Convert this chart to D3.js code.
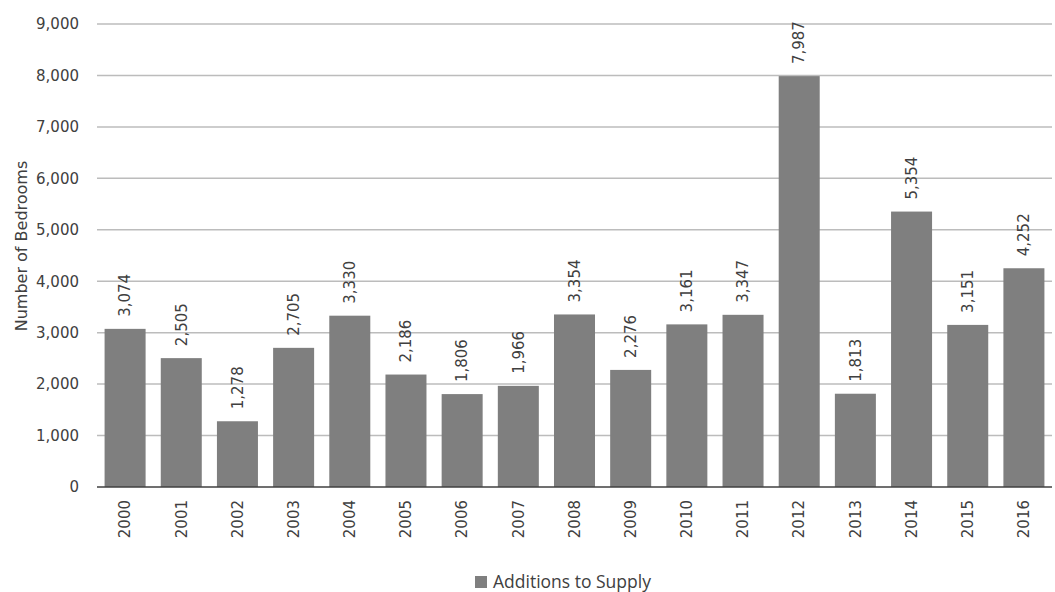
<!DOCTYPE html>
<html>
<head>
<meta charset="utf-8">
<script src="https://cdn.jsdelivr.net/npm/d3@7"></script>
<style>
  body { margin: 0; background: #fff; }
  svg text { font-family: "DejaVu Sans", Verdana, sans-serif; fill: #404040; }
</style>
</head>
<body>
<script>
// chart data
var years = ["2000","2001","2002","2003","2004","2005","2006","2007","2008","2009","2010","2011","2012","2013","2014","2015","2016"];
var bedrooms = [3074, 2505, 1278, 2705, 3330, 2186, 1806, 1966, 3354, 2276, 3161, 3347, 7987, 1813, 5354, 3151, 4252];
var yTicks = [0, 1000, 2000, 3000, 4000, 5000, 6000, 7000, 8000, 9000];
var seriesName = "Additions to Supply";

const w = 1055;
const h = 592;

const svg = d3.select("body").append("svg")
  .attr("width", w)
  .attr("height", h);

// scales
const xScale = d3.scaleBand()
  .domain(years)
  .range([97, 1052])
  .paddingInner(0.27)
  .paddingOuter(0.135);

const yScale = d3.scaleLinear()
  .domain([0, 9000])
  .range([487, 24]);

// gridlines
svg.append("g")
  .selectAll("line")
  .data(yTicks.filter(d => d > 0))
  .enter().append("line")
  .attr("x1", 97)
  .attr("x2", 1052)
  .attr("y1", d => yScale(d))
  .attr("y2", d => yScale(d))
  .attr("stroke", "#bcbcbc")
  .attr("stroke-width", 1.5);

// y axis labels
const yAxis = d3.axisLeft(yScale)
  .tickValues(yTicks)
  .tickFormat(d3.format(","))
  .tickSize(0)
  .tickPadding(18);

svg.append("g")
  .attr("transform", "translate(97,0)")
  .call(yAxis)
  .call(g => g.select(".domain").remove())
  .selectAll("text")
  .style("font-size", "15px")
  .attr("fill", "#404040");

// bars
svg.selectAll("rect.bar")
  .data(bedrooms)
  .enter().append("rect")
  .attr("class", "bar")
  .attr("x", (d, i) => xScale(years[i]))
  .attr("y", d => yScale(d))
  .attr("width", xScale.bandwidth())
  .attr("height", d => yScale(0) - yScale(d))
  .attr("fill", "#7f7f7f");

// value labels
svg.selectAll("text.val")
  .data(bedrooms)
  .enter().append("text")
  .attr("class", "val")
  .attr("transform", (d, i) => "translate(" + (xScale(years[i]) + xScale.bandwidth() / 2) + "," + (yScale(d) - 12) + ") rotate(-90)")
  .attr("dy", "0.35em")
  .attr("text-anchor", "start")
  .style("font-size", "15px")
  .text(d => d3.format(",")(d));

// x axis
const xAxis = d3.axisBottom(xScale).tickSize(0).tickPadding(0);
svg.append("g")
  .attr("transform", "translate(0,487)")
  .call(xAxis)
  .call(g => g.select(".domain").attr("stroke", "#404040").attr("stroke-width", 1.5).attr("d", "M97,0H1052"))
  .selectAll("text")
  .attr("transform", "translate(0,13) rotate(-90)")
  .attr("x", 0)
  .attr("y", 0)
  .attr("dy", "0.35em")
  .attr("text-anchor", "end")
  .style("font-size", "15px");

// y axis title
svg.append("text")
  .attr("transform", "translate(21,246) rotate(-90)")
  .attr("text-anchor", "middle")
  .attr("dy", "0.35em")
  .style("font-size", "16px")
  .text("Number of Bedrooms");

// legend
svg.append("rect")
  .attr("x", 475)
  .attr("y", 576)
  .attr("width", 12)
  .attr("height", 12)
  .attr("fill", "#7f7f7f");

svg.append("text")
  .attr("x", 493)
  .attr("y", 588)
  .style("font-family", "'Open Sans', sans-serif")
  .style("font-size", "17.5px")
  .text(seriesName);
</script>
</body>
</html>
